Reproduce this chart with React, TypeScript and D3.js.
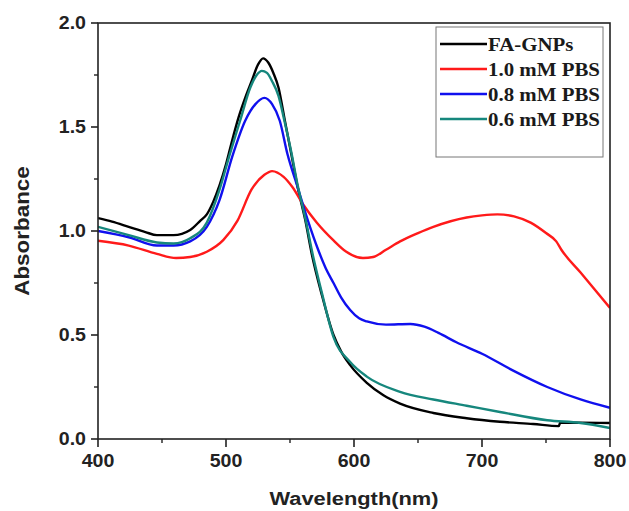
import React from "react";
import * as d3 from "d3";

const faGnpsNm = [400, 411, 424, 437, 446, 459, 472, 480, 485, 490, 495, 500, 505, 510, 515, 520, 525, 529, 533, 537, 541, 546, 551, 556, 562, 567, 575, 584, 590, 597, 610, 623, 636, 662, 688, 714, 740, 760, 761, 777, 800];
const faGnpsAbs = [1.062, 1.045, 1.02, 0.995, 0.98, 0.98, 1.005, 1.05, 1.08, 1.14, 1.22, 1.32, 1.44, 1.55, 1.64, 1.72, 1.8, 1.83, 1.81, 1.76, 1.69, 1.53, 1.37, 1.21, 1.05, 0.89, 0.69, 0.5, 0.42, 0.355, 0.27, 0.21, 0.17, 0.125, 0.1, 0.083, 0.072, 0.062, 0.078, 0.078, 0.077];

const pbs10Nm = [400, 424, 446, 461, 472, 485, 498, 509, 520, 530, 536, 545, 552, 560, 571, 584, 594, 607, 615, 625, 636, 650, 662, 688, 700, 712, 725, 738, 750, 758, 762, 777, 800];
const pbs10Abs = [0.953, 0.93, 0.89, 0.87, 0.875, 0.9, 0.957, 1.05, 1.2, 1.27, 1.288, 1.26, 1.21, 1.13, 1.04, 0.955, 0.9, 0.87, 0.875, 0.91, 0.95, 0.99, 1.02, 1.065, 1.075, 1.08, 1.07, 1.04, 0.99, 0.95, 0.91, 0.8, 0.63];

const pbs08Nm = [400, 424, 446, 459, 472, 485, 495, 505, 515, 523, 530, 536, 542, 548, 556, 564, 572, 578, 584, 590, 597, 604, 610, 625, 644, 655, 666, 680, 700, 724, 751, 777, 800];
const pbs08Abs = [1.0, 0.97, 0.93, 0.93, 0.95, 1.02, 1.15, 1.36, 1.53, 1.61, 1.64, 1.61, 1.53, 1.37, 1.21, 1.05, 0.91, 0.82, 0.75, 0.68, 0.62, 0.58, 0.565, 0.55, 0.553, 0.54, 0.51, 0.465, 0.41, 0.33, 0.25, 0.19, 0.15];

const pbs06Nm = [400, 424, 446, 459, 472, 485, 495, 503, 511, 519, 524, 528, 532, 536, 541, 546, 551, 556, 562, 568, 575, 584, 597, 610, 636, 662, 688, 714, 751, 777, 800];
const pbs06Abs = [1.02, 0.98, 0.945, 0.94, 0.965, 1.04, 1.2, 1.37, 1.53, 1.69, 1.75, 1.77, 1.76, 1.72, 1.65, 1.52, 1.38, 1.22, 1.06, 0.88, 0.7, 0.49, 0.37, 0.3, 0.227, 0.19, 0.16, 0.13, 0.09, 0.077, 0.053];

const seriesNames = ["FA-GNPs", "1.0 mM PBS", "0.8 mM PBS", "0.6 mM PBS"];
const seriesColors = ["#000000", "#ff1a1a", "#1010ee", "#16877d"];
const xTicks = [400, 500, 600, 700, 800];
const yTicks = [0.0, 0.5, 1.0, 1.5, 2.0];
const xMinor = [450, 550, 650, 750];
const yMinor = [0.25, 0.75, 1.25, 1.75];

const L = 98, R = 610, T = 23, B = 439;
const sans = "'Liberation Sans', Arial, sans-serif";
const serif = "'Liberation Serif', 'Times New Roman', serif";

export default function App() {
  const x = d3.scaleLinear().domain([400, 800]).range([L, R]);
  const y = d3.scaleLinear().domain([0, 2]).range([B, T]);
  const series = [
    { nm: faGnpsNm, abs: faGnpsAbs },
    { nm: pbs10Nm, abs: pbs10Abs },
    { nm: pbs08Nm, abs: pbs08Abs },
    { nm: pbs06Nm, abs: pbs06Abs },
  ];
  const line = d3
    .line<[number, number]>()
    .x((d) => x(d[0]))
    .y((d) => y(d[1]))
    .curve(d3.curveMonotoneX);

  const legX = 436, legY = 27;
  return (
    <svg width={629} height={511} style={{ position: "absolute", left: 0, top: 0, background: "#fff" }}>
      <defs>
        <clipPath id="plot">
          <rect x={L} y={T} width={R - L} height={B - T} />
        </clipPath>
      </defs>
      <g clipPath="url(#plot)">
        {series.map((s, i) => (
          <path
            key={i}
            d={line(s.nm.map((n, j) => [n, s.abs[j]] as [number, number])) || ""}
            fill="none"
            stroke={seriesColors[i]}
            strokeWidth={2.4}
            strokeLinejoin="round"
          />
        ))}
      </g>
      <rect x={L} y={T} width={R - L} height={B - T} fill="none" stroke="#222" strokeWidth={1.6} />
      {xTicks.map((t) => (
        <g key={"x" + t}>
          <line x1={x(t)} x2={x(t)} y1={B} y2={B + 8} stroke="#222" strokeWidth={1.6} />
          <text
            transform={`translate(${x(t)},${B + 28}) scale(1.12,1)`}
            textAnchor="middle"
            fontFamily={sans}
            fontWeight="bold"
            fontSize={17.5}
            fill="#222"
          >
            {t}
          </text>
        </g>
      ))}
      {xMinor.map((t) => (
        <line key={"xm" + t} x1={x(t)} x2={x(t)} y1={B} y2={B + 4} stroke="#222" strokeWidth={1.4} />
      ))}
      {yTicks.map((t) => (
        <g key={"y" + t}>
          <line x1={L - 7} x2={L} y1={y(t)} y2={y(t)} stroke="#222" strokeWidth={1.6} />
          <text
            transform={`translate(${L - 12},${y(t) + 6}) scale(1.12,1)`}
            textAnchor="end"
            fontFamily={sans}
            fontWeight="bold"
            fontSize={17.5}
            fill="#222"
          >
            {t.toFixed(1)}
          </text>
        </g>
      ))}
      {yMinor.map((t) => (
        <line key={"ym" + t} x1={L - 4} x2={L} y1={y(t)} y2={y(t)} stroke="#222" strokeWidth={1.4} />
      ))}
      <text
        transform={`translate(${(L + R) / 2},${505}) scale(1.15,1)`}
        textAnchor="middle"
        fontFamily={sans}
        fontWeight="bold"
        fontSize={19}
        fill="#222"
      >
        Wavelength(nm)
      </text>
      <text
        transform={`translate(${29},${(T + B) / 2}) rotate(-90) scale(1.15,1)`}
        textAnchor="middle"
        fontFamily={sans}
        fontWeight="bold"
        fontSize={19.5}
        fill="#222"
      >
        Absorbance
      </text>
      <rect x={legX} y={legY} width={167} height={130} fill="#fff" stroke="#777" strokeWidth={1} />
      {seriesNames.map((name, i) => {
        const ly = 44 + i * 25;
        return (
          <g key={name}>
            <line x1={440} x2={487} y1={ly} y2={ly} stroke={seriesColors[i]} strokeWidth={2.6} />
            <text
              transform={`translate(${488},${ly + 6.5}) scale(1.13,1)`}
              fontFamily={serif}
              fontWeight="bold"
              fontSize={18.5}
              fill="#1a1a1a"
            >
              {name}
            </text>
          </g>
        );
      })}
    </svg>
  );
}
